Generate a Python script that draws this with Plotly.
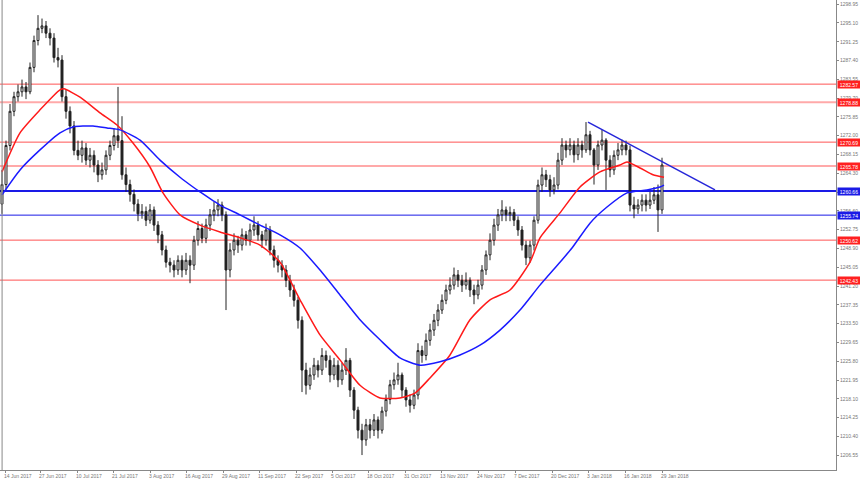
import plotly.graph_objects as go

# ---------------- data ----------------
first_open = 1258.0
closes = [1262.0, 1270.0, 1277.0, 1280.0, 1281.0, 1282.0, 1281.0, 1286.0, 1291.5, 1294.0,
          1294.5, 1293.0, 1292.0, 1288.0, 1287.5, 1280.0, 1277.0, 1274.0, 1269.0, 1268.0,
          1269.5, 1267.0, 1268.0, 1266.0, 1264.0, 1265.0, 1268.0, 1270.0, 1272.0, 1271.0,
          1264.0, 1262.0, 1260.0, 1258.0, 1256.0, 1256.5, 1254.7, 1256.8, 1253.7, 1251.7,
          1248.6, 1246.1, 1245.5, 1244.5, 1246.5, 1244.5, 1246.5, 1245.5, 1250.6, 1253.0,
          1251.0, 1253.7, 1255.8, 1256.8, 1257.8, 1255.8, 1244.5, 1248.6, 1250.6, 1249.6,
          1251.7, 1250.6, 1252.7, 1253.7, 1251.7, 1250.6, 1252.7, 1248.6, 1246.5, 1245.5,
          1244.5, 1242.4, 1240.4, 1238.3, 1234.2, 1224.0, 1220.9, 1223.0, 1225.0, 1224.0,
          1227.0, 1226.0, 1223.0, 1225.0, 1222.0, 1224.0, 1226.0, 1219.9, 1215.8, 1211.7,
          1209.7, 1212.8, 1211.7, 1213.8, 1211.7, 1215.6, 1218.0, 1221.0, 1222.0, 1223.0,
          1219.9, 1217.9, 1216.8, 1218.9, 1228.0, 1227.0, 1230.1, 1232.2, 1234.2, 1236.3,
          1238.3, 1240.4, 1241.4, 1243.5, 1242.4, 1241.4, 1242.4, 1240.4, 1239.4, 1241.4,
          1244.5, 1247.6, 1250.6, 1253.7, 1255.8, 1256.8, 1255.8, 1256.3, 1254.7, 1252.7,
          1249.6, 1247.0, 1249.6, 1254.7, 1261.9, 1264.0, 1263.0, 1260.9, 1261.9, 1267.0,
          1270.1, 1269.1, 1270.1, 1268.1, 1270.1, 1269.1, 1272.2, 1269.1, 1266.0, 1270.1,
          1271.1, 1267.0, 1265.0, 1268.0, 1269.1, 1270.1, 1269.1, 1257.8, 1257.0, 1257.8,
          1258.8, 1257.8, 1258.8, 1259.9, 1256.8, 1266.0]
highs = [1265.0, 1271.0, 1278.5, 1281.0, 1282.5, 1283.5, 1283.0, 1287.0, 1292.5, 1296.7,
         1296.0, 1295.5, 1294.0, 1293.0, 1290.0, 1288.5, 1281.5, 1278.0, 1275.0, 1271.0,
         1271.0, 1270.5, 1269.5, 1269.0, 1267.0, 1266.5, 1269.0, 1271.0, 1273.5, 1282.0,
         1276.0, 1265.5, 1263.0, 1261.0, 1259.0, 1258.0, 1257.5, 1258.0, 1257.5, 1254.5,
         1252.5, 1249.5, 1247.0, 1246.5, 1247.5, 1247.5, 1248.0, 1247.5, 1251.5, 1254.5,
         1254.0, 1255.0, 1257.0, 1258.5, 1259.0, 1258.5, 1256.5, 1250.0, 1252.0, 1251.5,
         1253.0, 1252.5, 1254.0, 1255.5, 1254.5, 1252.5, 1254.0, 1253.5, 1249.5, 1247.5,
         1246.5, 1245.5, 1243.5, 1241.5, 1239.0, 1235.0, 1225.5, 1224.5, 1226.5, 1226.0,
         1228.5, 1228.0, 1227.0, 1226.5, 1226.0, 1225.5, 1228.5, 1226.5, 1220.5, 1216.5,
         1213.0, 1214.0, 1214.0, 1215.0, 1214.5, 1216.5, 1219.0, 1222.0, 1223.5, 1225.5,
         1223.5, 1220.5, 1219.0, 1220.0, 1229.5, 1229.0, 1231.5, 1233.5, 1235.5, 1237.5,
         1239.5, 1241.5, 1243.0, 1245.0, 1244.5, 1243.5, 1244.0, 1243.0, 1241.5, 1242.5,
         1245.5, 1248.5, 1252.0, 1255.0, 1257.0, 1258.8, 1257.5, 1257.5, 1257.0, 1255.5,
         1253.5, 1250.5, 1250.5, 1255.5, 1263.0, 1265.5, 1265.0, 1264.0, 1263.5, 1268.5,
         1271.5, 1271.0, 1271.5, 1271.0, 1271.5, 1271.0, 1274.8, 1273.0, 1269.5, 1271.0,
         1273.2, 1271.5, 1268.0, 1269.0, 1270.5, 1271.2, 1271.0, 1270.0, 1259.5, 1259.0,
         1260.0, 1260.0, 1260.5, 1261.5, 1262.0, 1267.5]
lows = [1256.0, 1261.0, 1269.0, 1276.0, 1279.0, 1280.0, 1279.5, 1280.5, 1285.0, 1290.5,
        1293.0, 1292.0, 1290.5, 1287.0, 1286.0, 1279.0, 1275.5, 1272.5, 1268.0, 1267.0,
        1266.5, 1266.0, 1265.5, 1264.5, 1262.5, 1263.0, 1264.0, 1267.0, 1269.0, 1269.5,
        1263.0, 1260.5, 1258.5, 1256.5, 1254.5, 1255.0, 1253.5, 1254.0, 1252.5, 1250.0,
        1247.5, 1245.0, 1244.0, 1243.0, 1243.5, 1243.0, 1243.5, 1241.8, 1244.5, 1249.5,
        1250.0, 1250.0, 1252.5, 1254.5, 1255.5, 1254.5, 1236.3, 1243.0, 1247.5, 1248.0,
        1248.5, 1249.5, 1249.5, 1251.5, 1250.5, 1249.0, 1249.5, 1247.5, 1245.0, 1244.0,
        1243.0, 1241.0, 1239.0, 1237.0, 1232.5, 1219.5, 1219.0, 1220.0, 1222.0, 1222.5,
        1223.0, 1224.5, 1221.5, 1222.0, 1220.5, 1221.0, 1223.0, 1218.5, 1214.0, 1210.0,
        1206.6, 1208.5, 1210.0, 1210.5, 1210.0, 1211.0, 1214.5, 1217.0, 1220.0, 1221.0,
        1218.5, 1216.5, 1215.3, 1216.0, 1218.0, 1225.5, 1226.0, 1229.0, 1231.0, 1233.0,
        1235.5, 1237.5, 1239.5, 1240.5, 1241.0, 1240.0, 1240.5, 1239.0, 1237.5, 1238.5,
        1240.5, 1243.5, 1246.5, 1249.5, 1252.5, 1254.5, 1254.5, 1254.5, 1253.5, 1251.5,
        1248.5, 1245.5, 1246.0, 1248.5, 1254.0, 1260.5, 1261.5, 1259.5, 1260.0, 1261.0,
        1266.0, 1267.5, 1268.0, 1266.5, 1267.0, 1267.5, 1268.5, 1268.0, 1262.0, 1265.0,
        1269.0, 1260.9, 1263.5, 1264.0, 1267.0, 1268.0, 1268.0, 1256.5, 1255.1, 1256.0,
        1256.5, 1256.5, 1257.0, 1258.0, 1252.3, 1256.0]
opens = [first_open] + closes[:-1]
bar_index = list(range(len(closes)))

# moving averages (sampled points: bar index, price)
ma_fast_x = [0, 4.5, 9.5, 14.5, 15.5, 19.5, 24.5, 28.75, 32.75, 37, 40.25, 44.5, 49.5, 54.5,
             59.5, 64.5, 69.5, 74.5, 79.5, 84.5, 89.5, 94.5, 99.5, 103.25, 107, 112, 117,
             122, 127, 132, 134.5, 139.5, 144.5, 149.5, 154.5, 156.25, 159.5, 162.75, 165.5]
ma_fast_y = [1264.6, 1272.6, 1277.3, 1281.4, 1281.6, 1279.9, 1276.7, 1274.2, 1270.5, 1265.6,
             1260.3, 1255.8, 1253.7, 1252.3, 1251.1, 1249.6, 1246.1, 1238.4, 1231.2, 1226.1,
             1220.9, 1218.3, 1218.3, 1219.3, 1222.4, 1227.1, 1234.3, 1238.4, 1240.4, 1246.1,
             1251.1, 1256.2, 1261.5, 1264.6, 1266.0, 1266.6, 1265.4, 1264.0, 1263.5]
ma_slow_x = [0, 4.5, 9.5, 14.5, 17.75, 22.75, 26.25, 29.5, 34.5, 39.5, 44.5, 47.75, 49.5,
             54.5, 59.5, 64.5, 69.5, 74.5, 79.5, 84.5, 89.5, 94.5, 99.5, 104.5, 109.5, 114.5,
             119.5, 124.5, 129.5, 134.5, 139.5, 142.5, 147, 151.25, 156.25, 161.25, 164.5, 165.5]
ma_slow_y = [1259.9, 1265.0, 1269.1, 1272.6, 1273.8, 1274.0, 1273.6, 1273.2, 1271.1, 1267.0,
             1263.5, 1261.5, 1260.5, 1257.8, 1255.8, 1253.7, 1251.7, 1249.0, 1244.5, 1239.4,
             1234.3, 1230.2, 1226.5, 1225.0, 1225.7, 1227.1, 1229.1, 1232.2, 1236.3, 1241.4,
             1246.1, 1249.0, 1254.1, 1257.4, 1260.3, 1260.9, 1261.5, 1261.9]

# trend line (bar index, price)
trend_x = [146.5, 178.25]
trend_y = [1274.8, 1260.9]

# horizontal levels
red_levels = [1282.57, 1278.88, 1270.69, 1265.78, 1250.62, 1242.43]
red_level_alpha = [0.8, 0.4, 0.8, 0.4, 0.8, 0.8]
red_level_width = [1, 2, 1, 2, 1, 1]
blue_levels = [1260.66, 1255.74]
blue_level_width = [2, 1]

# price axis ticks
price_ticks = [1202.70, 1206.55, 1210.40, 1214.25, 1218.10, 1221.95, 1225.80, 1229.65,
               1233.50, 1237.35, 1241.20, 1245.05, 1248.90, 1252.75, 1256.60, 1260.45,
               1264.30, 1268.15, 1272.00, 1275.85, 1279.70, 1283.55, 1287.40, 1291.25,
               1295.10, 1298.95]

# time axis labels
time_tick_bars = [0.75, 9.5, 18.75, 27.75, 37, 46, 55.25, 64.25, 73.5, 82.5, 91.5, 100.75,
                  109.75, 119, 128.25, 137.5, 146.5, 155.75, 165]
time_tick_text = ["14 Jun 2017", "27 Jun 2017", "10 Jul 2017", "21 Jul 2017",
                  "3 Aug 2017", "16 Aug 2017", "29 Aug 2017", "11 Sep 2017",
                  "22 Sep 2017", "5 Oct 2017", "18 Oct 2017", "31 Oct 2017",
                  "13 Nov 2017", "24 Nov 2017", "7 Dec 2017", "20 Dec 2017",
                  "3 Jan 2018", "16 Jan 2018", "29 Jan 2018"]

# ---------------- figure ----------------
fig = go.Figure()

for lvl, a, w in zip(red_levels, red_level_alpha, red_level_width):
    fig.add_shape(type="line", xref="paper", x0=0, x1=1, yref="y", y0=lvl, y1=lvl,
                  line=dict(color=f"rgba(255,40,40,{a})", width=w), layer="below")
for lvl, w in zip(blue_levels, blue_level_width):
    fig.add_shape(type="line", xref="paper", x0=0, x1=1, yref="y", y0=lvl, y1=lvl,
                  line=dict(color="#1a1ae6", width=w), layer="below")

fig.add_trace(go.Candlestick(
    x=bar_index, open=opens, high=highs, low=lows, close=closes,
    increasing=dict(line=dict(color="#222222", width=1), fillcolor="#ffffff"),
    decreasing=dict(line=dict(color="#222222", width=1), fillcolor="#222222"),
    whiskerwidth=0, showlegend=False, hoverinfo="skip"))

fig.add_trace(go.Scatter(x=ma_fast_x, y=ma_fast_y, mode="lines",
                         line=dict(color="#ff1a1a", width=1.5, shape="spline", smoothing=0.6),
                         showlegend=False, hoverinfo="skip"))
fig.add_trace(go.Scatter(x=ma_slow_x, y=ma_slow_y, mode="lines",
                         line=dict(color="#1a1aff", width=1.5, shape="spline", smoothing=0.6),
                         showlegend=False, hoverinfo="skip"))
fig.add_trace(go.Scatter(x=trend_x, y=trend_y, mode="lines",
                         line=dict(color="#2626d9", width=1.5),
                         showlegend=False, hoverinfo="skip"))

# price labels on levels
for lvl in red_levels:
    fig.add_annotation(xref="paper", x=1, xanchor="left", xshift=1, yref="y", y=lvl,
                       text=f"{lvl:.2f}", showarrow=False, bgcolor="#ff2020",
                       font=dict(size=5, color="white", family="Liberation Sans"),
                       borderpad=0, width=22, height=7)
for lvl in blue_levels:
    fig.add_annotation(xref="paper", x=1, xanchor="left", xshift=1, yref="y", y=lvl,
                       text=f"{lvl:.2f}", showarrow=False, bgcolor="#1a1ae6",
                       font=dict(size=5, color="white", family="Liberation Sans"),
                       borderpad=0, width=22, height=7)

# time labels under the axis
for tb, tt in zip(time_tick_bars, time_tick_text):
    fig.add_annotation(xref="x", x=tb, xanchor="left", xshift=-2, yref="paper", y=0,
                       yanchor="top", yshift=-2, text=tt, showarrow=False,
                       font=dict(size=5, color="#777777", family="Liberation Sans"),
                       borderpad=0)

# left frame line
fig.add_shape(type="line", xref="paper", x0=0.0025, x1=0.0025, yref="paper", y0=0, y1=1,
              line=dict(color="#888888", width=1))

fig.update_layout(
    width=860, height=480,
    margin=dict(l=0, r=24, t=0, b=10),
    paper_bgcolor="white", plot_bgcolor="white",
    font=dict(family="Liberation Sans", size=5, color="#777777"),
    xaxis=dict(range=[-0.5, 208.5], rangeslider=dict(visible=False), showgrid=False,
               zeroline=False, showline=True, linecolor="#888888", linewidth=1,
               tickmode="array", tickvals=time_tick_bars, showticklabels=False,
               ticks="outside", ticklen=2, tickcolor="#888888", automargin=False),
    yaxis=dict(side="right", range=[1203.54, 1299.8], showgrid=False, zeroline=False,
               showline=True, linecolor="#888888", linewidth=1,
               tickmode="array", tickvals=price_ticks,
               ticktext=[f"{t:.2f}" for t in price_ticks],
               ticks="outside", ticklen=2, tickcolor="#888888", automargin=False,
               tickfont=dict(size=5, color="#777777", family="Liberation Sans")),
)

fig.write_html("out.html", config={"displayModeBar": False},
               post_script="document.body.style.margin='0';document.body.style.overflow='hidden';")
